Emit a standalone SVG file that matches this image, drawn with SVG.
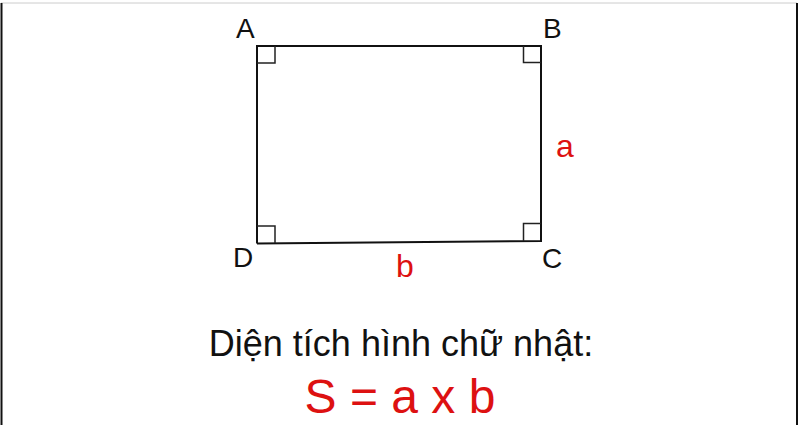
<svg xmlns="http://www.w3.org/2000/svg" width="800" height="425" viewBox="0 0 800 425">
<style>
.lbl{font-family:"Liberation Sans",Arial,sans-serif;font-size:28px;fill:#111}
.red{font-family:"Liberation Sans",Arial,sans-serif;fill:#dd1111}
.edge{stroke:#111;stroke-width:2;fill:none}
.mark{stroke:#222;stroke-width:1.5;fill:none}
</style>
<rect width="800" height="425" fill="#fff"/>
<g id="frame">
<line x1="1" y1="3" x2="797" y2="3" stroke="#ccc" stroke-width="1"/>
<line x1="1.5" y1="3" x2="1.5" y2="425" stroke="#111" stroke-width="2"/>
<line x1="797" y1="3" x2="797" y2="425" stroke="#111" stroke-width="2"/>
</g>
<g id="edges">
<polyline class="edge" points="257,243.5 257,46 541,46 541,241 257,243.5"/>
</g>
<g id="right-angles">
<polyline class="mark" points="257,63 275,63 275,46"/>
<polyline class="mark" points="523.5,46 523.5,62.5 541,62.5"/>
<polyline class="mark" points="523.5,241 523.5,223.5 541,223.5"/>
<polyline class="mark" points="257,226 275,226 275,243"/>
</g>
<g id="A"><text class="lbl" x="236" y="38">A</text></g>
<g id="B"><text class="lbl" x="543" y="38">B</text></g>
<g id="C"><text class="lbl" x="542" y="268">C</text></g>
<g id="D"><text class="lbl" x="233" y="267">D</text></g>
<g id="a"><text class="red" x="556" y="157" font-size="32">a</text></g>
<g id="b"><text class="red" x="396" y="277" font-size="32">b</text></g>
<g id="title"><text x="401" y="356" text-anchor="middle" font-family="'Liberation Sans',Arial,sans-serif" font-size="36" fill="#111">Diện tích hình chữ nhật:</text></g>
<g id="formula"><text x="400" y="413" text-anchor="middle" class="red" font-size="48">S = a x b</text></g>
</svg>
